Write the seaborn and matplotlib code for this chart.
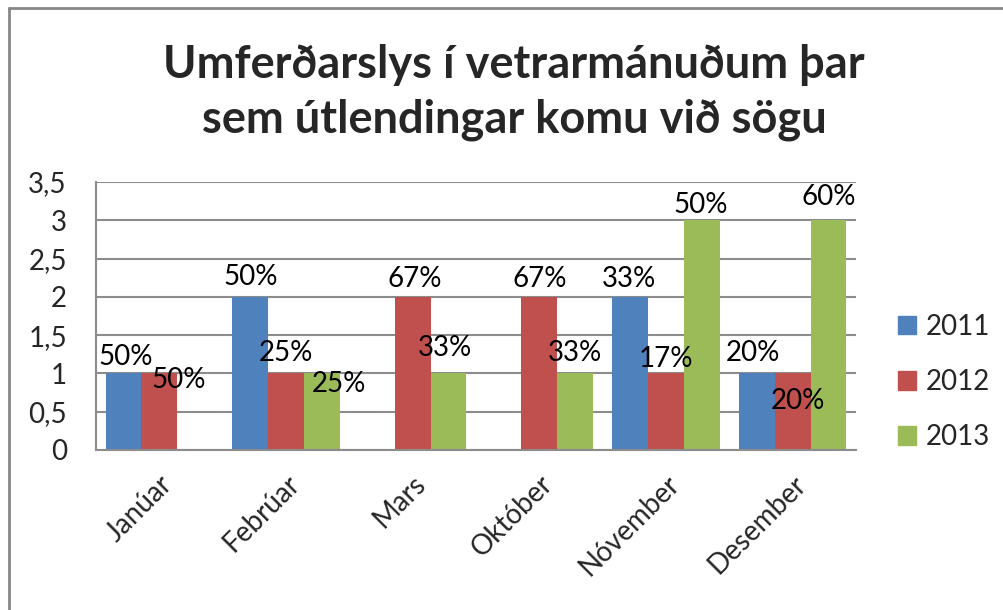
import matplotlib
matplotlib.use("Agg")
import matplotlib.pyplot as plt
import seaborn as sns
import pandas as pd
from matplotlib.patches import Patch
from matplotlib.lines import Line2D

# ===============================
# Data
# ===============================

months = ["Janúar", "Febrúar", "Mars", "Október", "Nóvember", "Desember"]
years = ["2011", "2012", "2013"]

counts_2011 = [1, 2, 0, 0, 2, 1]
counts_2012 = [1, 1, 2, 2, 1, 1]
counts_2013 = [0, 1, 1, 1, 3, 3]

pct_2011 = ["50%", "50%", None, None, "33%", "20%"]
pct_2012 = ["50%", "25%", "67%", "67%", "17%", "20%"]
pct_2013 = [None, "25%", "33%", "33%", "50%", "60%"]

y_ticks = [0, 0.5, 1, 1.5, 2, 2.5, 3, 3.5]
y_tick_labels = ["0", "0,5", "1", "1,5", "2", "2,5", "3", "3,5"]

colors = ["#4F81BD", "#C0504D", "#9BBB59"]

# label nudges (pixels) relative to top of each bar, like Excel placed them
nudge_2011 = [(2, 16), (0, 20), (0, 0), (0, 0), (-1, 18), (-4, 20)]
nudge_2012 = [(19, -7), (0, 20), (2, 18), (0, 18), (0, 14), (5, -28)]
nudge_2013 = [(0, 0), (17, -11), (-3, 25), (0, 20), (-1, 15), (0, 23)]

df = pd.DataFrame({
    "Month": months * 3,
    "Year": [y for y in years for _ in months],
    "Count": counts_2011 + counts_2012 + counts_2013,
})

# ===============================
# Plot
# ===============================

sns.set_theme(style="white")
plt.rcParams["font.family"] = ["Lato", "DejaVu Sans"]

fig = plt.figure(figsize=(10.04, 6.10), dpi=100)
ax = fig.add_axes([96 / 1004, 1 - 450 / 610, 760 / 1004, 268 / 610])

sns.barplot(
    data=df,
    x="Month",
    y="Count",
    hue="Year",
    order=months,
    hue_order=years,
    palette=colors,
    saturation=1,
    width=0.845,
    linewidth=0,
    ax=ax,
    legend=False,
)

ax.set_ylim(0, 3.5)
ax.set_yticks(y_ticks)
ax.set_yticklabels(y_tick_labels, fontsize=20)
ax.set_xlabel("")
ax.set_ylabel("")
ax.yaxis.grid(True, color="#8c8c8c", linewidth=1.5)
ax.set_axisbelow(True)
for side in ["top", "right"]:
    ax.spines[side].set_visible(False)
for side in ["left", "bottom"]:
    ax.spines[side].set_color("#8c8c8c")
    ax.spines[side].set_linewidth(1.5)
ax.tick_params(axis="y", length=0, pad=21)
ax.tick_params(axis="x", length=0, pad=15)

ax.set_xticks(range(len(months)))
ax.set_xticklabels(months, rotation=45, ha="right", va="top",
                   rotation_mode="anchor", fontsize=20)

# percentage labels
all_pcts = [pct_2011, pct_2012, pct_2013]
all_nudges = [nudge_2011, nudge_2012, nudge_2013]
for container, pcts, nudges in zip(ax.containers, all_pcts, all_nudges):
    for bar, txt, (dx, dy) in zip(container.patches, pcts, nudges):
        if txt is None:
            continue
        ax.annotate(
            txt,
            xy=(bar.get_x() + bar.get_width() / 2, bar.get_height()),
            xytext=(dx * 0.72, dy * 0.72),
            textcoords="offset points",
            ha="center",
            va="center",
            fontsize=20,
            color="black",
        )

# legend
handles = [Patch(facecolor=c, edgecolor=c) for c in colors]
fig.legend(
    handles,
    years,
    loc="center left",
    bbox_to_anchor=(898 / 1004, 1 - 382 / 610),
    frameon=False,
    borderpad=0,
    borderaxespad=0,
    fontsize=20,
    handlelength=0.65,
    handleheight=0.65,
    handletextpad=0.35,
    labelspacing=1.05,
)

fig.suptitle(
    "Umferðarslys í vetrarmánuðum þar\nsem útlendingar komu við sögu",
    x=0.512,
    y=1 - 44 / 610,
    va="top",
    fontsize=32.5,
    fontweight="bold",
    linespacing=1.36,
)

# chart area border (only top/left visible in the crop)
fig.add_artist(Line2D([9 / 1004, 1.0], [1 - 8 / 610, 1 - 8 / 610], transform=fig.transFigure, color="#868686", linewidth=2))
fig.add_artist(Line2D([9 / 1004, 9 / 1004], [0, 1 - 8 / 610], transform=fig.transFigure, color="#868686", linewidth=2))

fig.savefig("out.png", dpi=100)
